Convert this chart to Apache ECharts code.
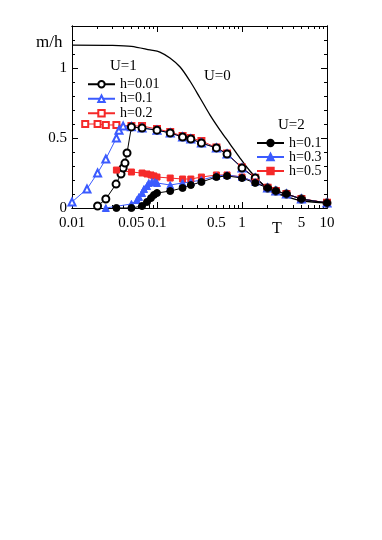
<!DOCTYPE html>
<html>
<head>
<meta charset="utf-8">
<script src="https://cdn.jsdelivr.net/npm/echarts@6/dist/echarts.min.js"></script>
<style>html,body{margin:0;background:#fff}#main{width:382px;height:540px}</style>
</head>
<body>
<div id="main"></div>
<script>
// U=0 curve
var tU0 = [0.01, 0.03, 0.05, 0.0828, 0.108, 0.142, 0.187, 0.244, 0.321, 0.421, 0.551, 0.723, 0.947, 1.24, 1.63, 2.13, 3.38, 5.22, 10];
var mU0 = [1.164, 1.162, 1.155, 1.129, 1.114, 1.071, 1.007, 0.907, 0.786, 0.664, 0.557, 0.457, 0.357, 0.264, 0.186, 0.129, 0.079, 0.05, 0.036];

// U=1
var tU1h001 = [0.02, 0.025, 0.033, 0.0377, 0.04, 0.042, 0.0444, 0.05, 0.0667, 0.1, 0.143, 0.2, 0.25, 0.333, 0.5, 0.667, 1, 1.43, 2, 2.5, 3.33, 5, 10];
var mU1h001 = [0.014, 0.064, 0.171, 0.243, 0.286, 0.321, 0.393, 0.579, 0.571, 0.556, 0.536, 0.507, 0.493, 0.464, 0.429, 0.386, 0.286, 0.214, 0.143, 0.121, 0.1, 0.064, 0.036];
var tU1h01 = [0.01, 0.015, 0.02, 0.025, 0.0333, 0.0357, 0.04, 0.05, 0.0667, 0.1, 0.143, 0.2, 0.25, 0.333, 0.5, 0.667, 1, 1.43, 2, 2.5, 3.33, 5, 10];
var mU1h01 = [0.043, 0.136, 0.25, 0.35, 0.5, 0.555, 0.585, 0.58, 0.572, 0.556, 0.536, 0.507, 0.493, 0.464, 0.429, 0.386, 0.286, 0.214, 0.143, 0.121, 0.1, 0.064, 0.036];
var tU1h02 = [0.0143, 0.02, 0.025, 0.0333, 0.05, 0.0667, 0.1, 0.143, 0.2, 0.25, 0.333, 0.5, 0.667, 1, 1.43, 2, 2.5, 3.33, 5, 10];
var mU1h02 = [0.6, 0.6, 0.593, 0.593, 0.586, 0.586, 0.564, 0.543, 0.514, 0.5, 0.479, 0.432, 0.389, 0.289, 0.216, 0.145, 0.122, 0.1, 0.065, 0.037];

// U=2
var tU2h01 = [0.0333, 0.05, 0.0667, 0.0763, 0.085, 0.092, 0.1, 0.143, 0.2, 0.25, 0.333, 0.5, 0.667, 1, 1.43, 2, 2.5, 3.33, 5, 10];
var mU2h01 = [0.0, 0.0, 0.014, 0.043, 0.071, 0.093, 0.107, 0.121, 0.143, 0.164, 0.186, 0.221, 0.229, 0.214, 0.179, 0.143, 0.121, 0.1, 0.064, 0.036];
var tU2h03 = [0.025, 0.05, 0.058, 0.0614, 0.0667, 0.0703, 0.0763, 0.08, 0.087, 0.094, 0.1, 0.143, 0.2, 0.25, 0.333, 0.5, 0.667, 1, 1.43, 2, 2.5, 3.33, 5, 10];
var mU2h03 = [0.0, 0.029, 0.057, 0.079, 0.107, 0.136, 0.157, 0.179, 0.186, 0.186, 0.179, 0.164, 0.179, 0.186, 0.2, 0.229, 0.236, 0.221, 0.186, 0.143, 0.121, 0.1, 0.064, 0.036];
var tU2h05 = [0.0333, 0.05, 0.0667, 0.0763, 0.085, 0.092, 0.1, 0.143, 0.2, 0.25, 0.333, 0.5, 0.667, 1, 1.43, 2, 2.5, 3.33, 5, 10];
var mU2h05 = [0.271, 0.257, 0.25, 0.243, 0.236, 0.229, 0.221, 0.214, 0.207, 0.207, 0.221, 0.236, 0.236, 0.221, 0.186, 0.145, 0.123, 0.101, 0.065, 0.037];

// axis ticks and labels
var xMajor = [0.01, 0.1, 1, 10];
var xMinor = [0.02, 0.03, 0.04, 0.05, 0.06, 0.07, 0.08, 0.09, 0.2, 0.3, 0.4, 0.5, 0.6, 0.7, 0.8, 0.9, 2, 3, 4, 5, 6, 7, 8, 9];
var xLabels = [0.01, 0.05, 0.1, 0.5, 1, 5, 10];
var yMajor = [0, 0.5, 1];
var yMinor = [0.1, 0.2, 0.3, 0.4, 0.6, 0.7, 0.8, 0.9, 1.1, 1.2];
var yLabels = [0, 0.5, 1];

var blue = '#3b5bff';
var red = '#f52a2a';
var font = 'Liberation Serif';

function zip(t, m) {
    return t.map(function (v, i) { return [v, m[i]]; });
}

var mychart = echarts.init(document.getElementById('main'));

function xAx(pos, ticks, len, labels) {
    return {
        type: 'log', logBase: 10, min: 0.01, max: 10, position: pos,
        axisLine: { show: true, onZero: false, lineStyle: { color: '#000', width: 1 } },
        axisTick: { show: true, inside: true, length: len, customValues: ticks, lineStyle: { color: '#000' } },
        axisLabel: labels ? {
            show: true, customValues: labels, margin: 8, color: '#000', fontFamily: font, fontSize: 15,
            formatter: function (v) { return String(+(+v).toPrecision(3)); }
        } : { show: false },
        splitLine: { show: false }, minorTick: { show: false }
    };
}
function yAx(pos, ticks, len, labels) {
    return {
        type: 'value', min: 0, max: 1.3, position: pos,
        axisLine: { show: true, onZero: false, lineStyle: { color: '#000', width: 1 } },
        axisTick: { show: true, inside: true, length: len, customValues: ticks, lineStyle: { color: '#000' } },
        axisLabel: labels ? {
            show: true, customValues: labels, margin: 5, color: '#000', fontFamily: font, fontSize: 15,
            formatter: function (v) { return String(v); }
        } : { show: false },
        splitLine: { show: false }
    };
}

function ser(name, t, m, color, symbol, size) {
    return {
        name: name, type: 'line', data: zip(t, m),
        symbol: symbol, symbolSize: size,
        lineStyle: { color: color, width: 1 },
        itemStyle: { color: color, borderColor: color, borderWidth: 1 },
        showAllSymbol: true
    };
}

function legendFmt(name) { return name.replace(/^U=\d /, ''); }

option = {
    backgroundColor: '#fff',
    animation: false,
    grid: { left: 72, right: 55, top: 26, bottom: 332 },
    xAxis: [
        xAx('bottom', xMajor, 6, xLabels),
        xAx('bottom', xMinor, 3, null),
        xAx('top', xMajor, 6, null),
        xAx('top', xMinor, 3, null)
    ],
    yAxis: [
        yAx('left', yMajor, 6, yLabels),
        yAx('left', yMinor, 3, null),
        yAx('right', yMajor, 6, null),
        yAx('right', yMinor, 3, null)
    ],
    legend: [
        {
            data: ['U=1 h=0.01', 'U=1 h=0.1', 'U=1 h=0.2'],
            orient: 'vertical', left: 87, top: 77, padding: 0,
            itemWidth: 27, itemHeight: 8, itemGap: 0,
            formatter: legendFmt,
            textStyle: { fontFamily: font, fontSize: 14, color: '#000', lineHeight: 14.5 }
        },
        {
            data: ['U=2 h=0.1', 'U=2 h=0.3', 'U=2 h=0.5'],
            orient: 'vertical', left: 256, top: 136, padding: 0,
            itemWidth: 27, itemHeight: 8, itemGap: 0,
            formatter: legendFmt,
            textStyle: { fontFamily: font, fontSize: 14, color: '#000', lineHeight: 14 }
        }
    ],
    graphic: [
        { type: 'text', left: 36, top: 34, style: { text: 'm/h', font: '17px "Liberation Serif"', fill: '#000' } },
        { type: 'text', left: 110, top: 59, style: { text: 'U=1', font: '15px "Liberation Serif"', fill: '#000' } },
        { type: 'text', left: 204, top: 69, style: { text: 'U=0', font: '15px "Liberation Serif"', fill: '#000' } },
        { type: 'text', left: 278, top: 118, style: { text: 'U=2', font: '15px "Liberation Serif"', fill: '#000' } },
        { type: 'text', left: 272, top: 221, style: { text: 'T', font: '16px "Liberation Serif"', fill: '#000' } }
    ],
    series: [
        ser('U=1 h=0.2', tU1h02, mU1h02, red, 'emptyRect', 6),
        ser('U=1 h=0.1', tU1h01, mU1h01, blue, 'emptyTriangle', 7),
        ser('U=1 h=0.01', tU1h001, mU1h001, '#000', 'emptyCircle', 7),
        ser('U=2 h=0.5', tU2h05, mU2h05, red, 'rect', 6),
        ser('U=2 h=0.3', tU2h03, mU2h03, blue, 'triangle', 7),
        ser('U=2 h=0.1', tU2h01, mU2h01, '#000', 'circle', 7),
        {
            name: 'U=0', type: 'line', data: zip(tU0, mU0), symbol: 'none',
            smooth: 0.3,
            lineStyle: { color: '#000', width: 1.3 }
        }
    ]
};
mychart.setOption(option, true);
</script>
</body>
</html>
